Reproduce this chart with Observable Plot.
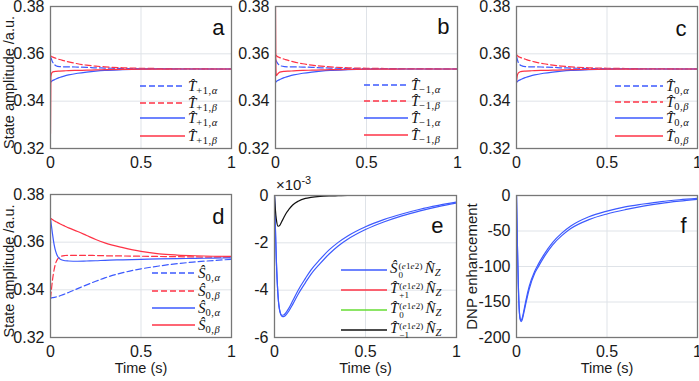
<!DOCTYPE html>
<html><head><meta charset="utf-8">
<script src="https://cdn.jsdelivr.net/npm/d3@7"></script>
<script src="https://cdn.jsdelivr.net/npm/@observablehq/plot@0.6"></script>
<style>
body{margin:0;background:#fff;}
#wrap{position:relative;width:699px;height:381px;overflow:hidden;background:#fff;font-family:"Liberation Sans",Arial,sans-serif;}
#wrap > svg{position:absolute;overflow:visible;}
.leg{position:absolute;display:flex;align-items:center;height:18px;white-space:nowrap;}
.leg svg{display:block;flex:none;}
.m{font-family:"Liberation Serif","Times New Roman",serif;font-size:15px;color:#111;line-height:1;margin-left:3px;}
.m i{font-style:italic;}
.m sub{font-size:10.5px;vertical-align:-3px;line-height:0;letter-spacing:0.5px;}
.st{display:inline-flex;flex-direction:column;font-size:9px;line-height:8.5px;vertical-align:4px;margin-left:1px;margin-right:2px;letter-spacing:0.2px;}
.ovl{position:absolute;font-family:"Liberation Sans",Arial,sans-serif;color:#1a1a1a;}
</style></head><body><div id="wrap"></div>
<script>
// ---------- data ----------
const tTop = [0, 0.002, 0.005, 0.01, 0.02, 0.03, 0.05, 0.075, 0.1, 0.15, 0.2, 0.25, 0.3, 0.4, 0.5, 0.6, 0.7, 0.8, 0.9, 1];
const aBlueDash  = [0.3586,0.3584,0.3578,0.3568,0.3556,0.3550,0.3546,0.3545,0.3545,0.3544,0.3543,0.3541,0.3540,0.3538,0.3537,0.3537,0.3536,0.3536,0.3536,0.3536];
const aRedDash   = [0.3592,0.3591,0.3589,0.3587,0.3584,0.3581,0.3576,0.3571,0.3566,0.3558,0.3552,0.3548,0.3545,0.3541,0.3539,0.3538,0.3537,0.3537,0.3536,0.3536];
const aBlueSolid = [0.3480,0.3481,0.3483,0.3486,0.3490,0.3494,0.3500,0.3506,0.3511,0.3518,0.3523,0.3527,0.3530,0.3533,0.3535,0.3536,0.3536,0.3536,0.3536,0.3536];
const aRedSolid  = [0.3263,0.3500,0.3516,0.3522,0.3525,0.3526,0.3527,0.3528,0.3529,0.3530,0.3531,0.3532,0.3533,0.3534,0.3535,0.3535,0.3536,0.3536,0.3536,0.3536];

const bBlueDash  = [0.3576,0.3574,0.3569,0.3562,0.3553,0.3549,0.3546,0.3545,0.3545,0.3544,0.3543,0.3541,0.3540,0.3538,0.3537,0.3537,0.3536,0.3536,0.3536,0.3536];
const bRedDash   = [0.3597,0.3595,0.3592,0.3589,0.3585,0.3582,0.3577,0.3571,0.3566,0.3558,0.3552,0.3548,0.3545,0.3541,0.3539,0.3538,0.3537,0.3537,0.3536,0.3536];
const bBlueSolid = [0.3480,0.3481,0.3483,0.3486,0.3490,0.3494,0.3500,0.3506,0.3511,0.3518,0.3523,0.3527,0.3530,0.3533,0.3535,0.3536,0.3536,0.3536,0.3536,0.3536];
const bRedSolid  = [0.3800,0.3540,0.3508,0.3513,0.3521,0.3524,0.3526,0.3527,0.3528,0.3530,0.3531,0.3532,0.3533,0.3534,0.3535,0.3535,0.3536,0.3536,0.3536,0.3536];

const cBlueDash  = [0.3588,0.3584,0.3575,0.3563,0.3553,0.3549,0.3546,0.3545,0.3545,0.3544,0.3543,0.3541,0.3540,0.3538,0.3537,0.3537,0.3536,0.3536,0.3536,0.3536];
const cRedDash   = [0.3596,0.3595,0.3592,0.3589,0.3585,0.3582,0.3577,0.3571,0.3566,0.3558,0.3552,0.3548,0.3545,0.3541,0.3539,0.3538,0.3537,0.3537,0.3536,0.3536];
const cBlueSolid = [0.3480,0.3481,0.3483,0.3486,0.3490,0.3494,0.3500,0.3506,0.3511,0.3518,0.3523,0.3527,0.3530,0.3533,0.3535,0.3536,0.3536,0.3536,0.3536,0.3536];
const cRedSolid  = [0.3480,0.3495,0.3510,0.3519,0.3524,0.3526,0.3527,0.3528,0.3529,0.3530,0.3531,0.3532,0.3533,0.3534,0.3535,0.3535,0.3536,0.3536,0.3536,0.3536];

const tD = [0, 0.005, 0.01, 0.02, 0.03, 0.04, 0.05, 0.06, 0.08, 0.1, 0.15, 0.2, 0.25, 0.3, 0.4, 0.5, 0.6, 0.7, 0.8, 0.9, 1];
const dBlueDash  = [0.3365,0.3366,0.3367,0.3368,0.3370,0.3372,0.3374,0.3377,0.3383,0.3389,0.3405,0.3421,0.3436,0.3450,0.3472,0.3488,0.3500,0.3510,0.3517,0.3523,0.3528];
const dRedDash   = [0.3365,0.3400,0.3435,0.3485,0.3515,0.3530,0.3537,0.3541,0.3544,0.3545,0.3545,0.3545,0.3544,0.3543,0.3542,0.3541,0.3540,0.3539,0.3538,0.3537,0.3537];
const dBlueSolid = [0.3700,0.3670,0.3640,0.3590,0.3558,0.3540,0.3531,0.3526,0.3522,0.3521,0.3520,0.3521,0.3522,0.3524,0.3526,0.3528,0.3530,0.3531,0.3532,0.3533,0.3534];
const dRedSolid  = [0.3700,0.3698,0.3695,0.3690,0.3686,0.3682,0.3678,0.3674,0.3667,0.3660,0.3645,0.3628,0.3611,0.3597,0.3577,0.3561,0.3551,0.3546,0.3543,0.3541,0.3540];

// panel e values in units of 1e-3
const tE = [0, 0.005, 0.01, 0.02, 0.03, 0.04, 0.05, 0.06, 0.08, 0.1, 0.13, 0.17, 0.2, 0.25, 0.3, 0.35, 0.4, 0.5, 0.6, 0.7, 0.8, 0.9, 1];
const eS0a = [0,-1.4,-2.7,-4.3,-4.9,-5.06,-5.05,-4.98,-4.75,-4.45,-4.0,-3.5,-3.15,-2.7,-2.3,-1.98,-1.72,-1.32,-1.02,-0.78,-0.58,-0.42,-0.28];
const eS0b = [0,-1.4,-2.7,-4.3,-4.92,-5.1,-5.12,-5.07,-4.87,-4.6,-4.17,-3.68,-3.33,-2.88,-2.47,-2.13,-1.86,-1.44,-1.12,-0.86,-0.65,-0.47,-0.32];
const eTp1 = [0,0,0,0,0,0,0,0,0,0,0,0,0,0,0,0,0,0,0,0,0,0,0];
const eT0  = [0,0,0,0,0,0,0,0,0,0,0,0,0,0,0,0,0,0,0,0,0,0,0];
const eTm1 = [0,-0.6,-1.0,-1.3,-1.25,-1.1,-0.95,-0.8,-0.58,-0.4,-0.24,-0.12,-0.08,-0.04,-0.02,-0.01,0,0,0,0,0,0,0];

const tF = [0, 0.005, 0.01, 0.015, 0.02, 0.025, 0.03, 0.04, 0.05, 0.07, 0.1, 0.12, 0.15, 0.2, 0.25, 0.3, 0.4, 0.5, 0.6, 0.7, 0.8, 0.9, 1];
const fA = [0,-70,-125,-160,-173,-176,-174,-163,-150,-128,-107,-97,-84,-66,-53,-43,-30,-22,-16,-12,-8.5,-6,-4];
const fB = [0,-70,-125,-160,-174,-177.5,-176,-166,-154,-132,-110,-100.5,-87.5,-69.5,-56.5,-46.5,-34,-26,-20,-15,-11,-8,-5.5];

const xTicks = [0, 0.5, 1];
const ampTicks = [0.32, 0.34, 0.36, 0.38];
const eTicks = [-6, -4, -2, 0];
const fTicks = [-200, -150, -100, -50, 0];

// ---------- style ----------
const BLUE = "#3d5afe", RED = "#fe3346", GREEN = "#66dd33", BLACK = "#111";
const wrap = document.getElementById("wrap");
const ML = 52, MR = 4, MT = 12, MB = 44;

function series(t, v) { return t.map((d, i) => ({t: d, v: v[i]})); }

function panel(cfg) {
  const [x0, x1, y0, y1] = cfg.frame;
  const width = (x1 - x0) + ML + MR, height = (y1 - y0) + MT + MB;
  const marks = [
    Plot.gridX([0.5], {stroke: "#dfe3e8", strokeOpacity: 1}),
    Plot.gridY(cfg.yTicks, {stroke: "#dfe3e8", strokeOpacity: 1}),
    Plot.axisX({ticks: xTicks, tickSize: 0, tickPadding: 8, label: null, tickFormat: d => String(d), fontSize: 16}),
    Plot.axisY({ticks: cfg.yTicks, tickSize: 0, tickPadding: 6, label: null, tickFormat: cfg.yFmt, fontSize: 16})
  ];
  for (const s of cfg.series) {
    marks.push(Plot.line(series(s.t, s.v), {x: "t", y: "v", stroke: s.color, strokeWidth: 1.2,
      strokeDasharray: s.dash ? "6,3" : null, curve: "monotone-x", clip: true}));
  }
  marks.push(Plot.frame({stroke: "#777", strokeWidth: 1.3}));
  marks.push(Plot.text([cfg.letter], {text: d => d, frameAnchor: "top-right", textAnchor: "end",
    dx: cfg.ldx, dy: cfg.ldy, fontSize: 22, fill: "#111"}));
  if (cfg.ylabel) marks.push(Plot.text([cfg.ylabel], {text: d => d, frameAnchor: "left", textAnchor: "middle",
    rotate: -90, dx: cfg.ylDx, dy: cfg.ylDy, fontSize: cfg.ylSize, fill: "#1a1a1a"}));
  if (cfg.xlabel) marks.push(Plot.text([cfg.xlabel], {text: d => d, frameAnchor: "bottom", textAnchor: "middle",
    dy: 35, fontSize: 14.5, fill: "#1a1a1a"}));
  const svg = Plot.plot({
    width, height, marginLeft: ML, marginRight: MR, marginTop: MT, marginBottom: MB,
    x: {domain: [0, 1]},
    y: {domain: cfg.yDomain},
    style: {fontFamily: "Liberation Sans, Arial, sans-serif", fontSize: "15px", color: "#1a1a1a",
      background: "transparent", overflow: "visible"},
    marks
  });
  svg.style.left = (x0 - ML) + "px";
  svg.style.top = (y0 - MT) + "px";
  wrap.appendChild(svg);
}

function legend(lx0, lx1, rows, entries) {
  entries.forEach((e, i) => {
    const div = document.createElement("div");
    div.className = "leg";
    div.style.left = lx0 + "px";
    div.style.top = (rows[i] - 9) + "px";
    const w = lx1 - lx0;
    div.innerHTML = `<svg width="${w}" height="4"><line x1="0" x2="${w}" y1="2" y2="2" stroke="${e.color}" stroke-width="1.3" ${e.dash ? 'stroke-dasharray="6,3"' : ''}/></svg><span class="m">${e.html}</span>`;
    wrap.appendChild(div);
  });
}

const fmt2 = d => d.toFixed(2);
const T = sub => `<i>T&#770;</i><sub>${sub}</sub>`;
const S = sub => `<i>&#348;</i><sub>${sub}</sub>`;

panel({frame: [50, 231, 6, 148], yDomain: [0.32, 0.38], yTicks: ampTicks, yFmt: fmt2, letter: "a", ldx: -7, ldy: 13,
  ylabel: "State amplitude /a.u.", ylDx: -41, ylDy: 5, ylSize: 14.5,
  series: [{t: tTop, v: aBlueDash, color: BLUE, dash: true}, {t: tTop, v: aRedDash, color: RED, dash: true},
           {t: tTop, v: aBlueSolid, color: BLUE}, {t: tTop, v: aRedSolid, color: RED}]});
panel({frame: [275, 457, 6, 148], yDomain: [0.32, 0.38], yTicks: ampTicks, yFmt: fmt2, letter: "b", ldx: -8, ldy: 12,
  series: [{t: tTop, v: bBlueDash, color: BLUE, dash: true}, {t: tTop, v: bRedDash, color: RED, dash: true},
           {t: tTop, v: bBlueSolid, color: BLUE}, {t: tTop, v: bRedSolid, color: RED}]});
panel({frame: [516, 697, 6, 148], yDomain: [0.32, 0.38], yTicks: ampTicks, yFmt: fmt2, letter: "c", ldx: -11, ldy: 14,
  series: [{t: tTop, v: cBlueDash, color: BLUE, dash: true}, {t: tTop, v: cRedDash, color: RED, dash: true},
           {t: tTop, v: cBlueSolid, color: BLUE}, {t: tTop, v: cRedSolid, color: RED}]});
panel({frame: [50, 231, 194, 337], yDomain: [0.32, 0.38], yTicks: ampTicks, yFmt: fmt2, letter: "d", ldx: -7, ldy: 14,
  ylabel: "State amplitude /a.u.", ylDx: -41, ylDy: 5, ylSize: 14.5, xlabel: "Time (s)",
  series: [{t: tD, v: dBlueDash, color: BLUE, dash: true}, {t: tD, v: dRedDash, color: RED, dash: true},
           {t: tD, v: dBlueSolid, color: BLUE}, {t: tD, v: dRedSolid, color: RED}]});
panel({frame: [274, 456, 195, 337], yDomain: [-6, 0], yTicks: eTicks, yFmt: d => String(d), letter: "e", ldx: -13, ldy: 22,
  xlabel: "Time (s)",
  series: [{t: tE, v: eTp1, color: RED}, {t: tE, v: eT0, color: GREEN},
           {t: tE, v: eS0a, color: BLUE}, {t: tE, v: eS0b, color: BLUE}, {t: tE, v: eTm1, color: BLACK}]});
panel({frame: [516, 697, 195, 337], yDomain: [-200, 0], yTicks: fTicks, yFmt: d => String(d), letter: "f", ldx: -11, ldy: 22,
  ylabel: "DNP enhancement", ylDx: -44, ylDy: 0, ylSize: 15, xlabel: "Time (s)",
  series: [{t: tF, v: fA, color: BLUE}, {t: tF, v: fB, color: BLUE}]});

legend(140, 185, [86, 103, 118, 136], [
  {color: BLUE, dash: true, html: T("+1,<i>α</i>")}, {color: RED, dash: true, html: T("+1,<i>β</i>")},
  {color: BLUE, html: T("+1,<i>α</i>")}, {color: RED, html: T("+1,<i>β</i>")}]);
legend(364, 408, [85, 101, 118, 135], [
  {color: BLUE, dash: true, html: T("−1,<i>α</i>")}, {color: RED, dash: true, html: T("−1,<i>β</i>")},
  {color: BLUE, html: T("−1,<i>α</i>")}, {color: RED, html: T("−1,<i>β</i>")}]);
legend(615, 663, [86, 102, 118, 136], [
  {color: BLUE, dash: true, html: T("0,<i>α</i>")}, {color: RED, dash: true, html: T("0,<i>β</i>")},
  {color: BLUE, html: T("0,<i>α</i>")}, {color: RED, html: T("0,<i>β</i>")}]);
legend(152, 195, [273, 291, 308, 325], [
  {color: BLUE, dash: true, html: S("0,<i>α</i>")}, {color: RED, dash: true, html: S("0,<i>β</i>")},
  {color: BLUE, html: S("0,<i>α</i>")}, {color: RED, html: S("0,<i>β</i>")}]);
const e12 = "(<i>e</i>1<i>e</i>2)";
const NZ = `<i>N&#770;</i><sub><i>Z</i></sub>`;
legend(341, 387, [270, 290, 310, 330], [
  {color: BLUE, html: `<i>&#348;</i><span class="st"><span>${e12}</span><span>0</span></span>${NZ}`},
  {color: RED, html: `<i>T&#770;</i><span class="st"><span>${e12}</span><span>+1</span></span>${NZ}`},
  {color: GREEN, html: `<i>T&#770;</i><span class="st"><span>${e12}</span><span>0</span></span>${NZ}`},
  {color: BLACK, html: `<i>T&#770;</i><span class="st"><span>${e12}</span><span>−1</span></span>${NZ}`}]);

const exp = document.createElement("div");
exp.className = "ovl";
exp.style.left = "276px"; exp.style.top = "174px"; exp.style.fontSize = "15px";
exp.innerHTML = "×10<sup style='font-size:11px'>-3</sup>";
wrap.appendChild(exp);
</script></body></html>
